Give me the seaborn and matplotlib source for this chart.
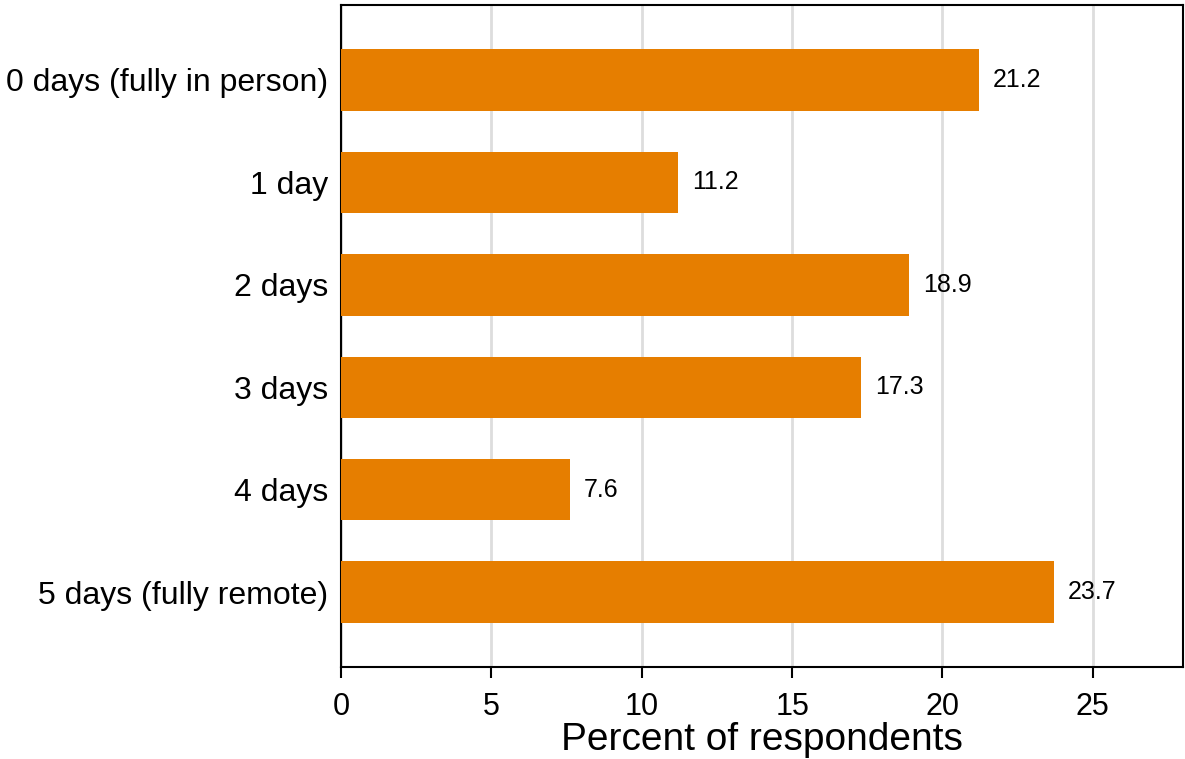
import matplotlib
matplotlib.use("Agg")
import matplotlib.pyplot as plt
import seaborn as sns
import pandas as pd

categories = ["0 days (fully in person)", "1 day", "2 days", "3 days",
              "4 days", "5 days (fully remote)"]
percents = [21.2, 11.2, 18.9, 17.3, 7.6, 23.7]

df = pd.DataFrame({"days": categories, "pct": percents})

sns.set_style("white")
plt.rcParams["font.family"] = ["Liberation Sans", "DejaVu Sans"]
plt.rcParams["text.color"] = "black"
plt.rcParams["xtick.color"] = "black"
plt.rcParams["ytick.color"] = "black"
plt.rcParams["axes.labelcolor"] = "black"

fig = plt.figure(figsize=(11.85, 7.59), dpi=100)
ax = fig.add_axes([0.2878, 0.1212, 0.7105, 0.8722])

sns.barplot(data=df, x="pct", y="days", color="#E67E00", saturation=1,
            width=0.6, linewidth=0, ax=ax, zorder=3)

for i, v in enumerate(percents):
    ax.annotate(f"{v:.1f}", xy=(v, i), xytext=(10, 0),
                textcoords="offset points", va="center", ha="left",
                fontsize=18, color="black", zorder=4)

ax.set_xlim(0, 28)
ax.set_ylim(5.73, -0.73)
ax.set_xticks([0, 5, 10, 15, 20, 25])
ax.xaxis.grid(True, color="#DDDDDD", linewidth=2, zorder=0)
ax.yaxis.grid(False)
ax.set_axisbelow(True)

for s in ax.spines.values():
    s.set_color("black")
    s.set_linewidth(1.5)

ax.tick_params(axis="x", bottom=True, length=8, width=1.5, labelsize=22,
               pad=10, color="black")
ax.tick_params(axis="y", left=False, labelsize=23, pad=6)
ax.set_xlabel("Percent of respondents", fontsize=28, labelpad=0)
ax.set_ylabel("")

fig.savefig("out.png", dpi=100)
